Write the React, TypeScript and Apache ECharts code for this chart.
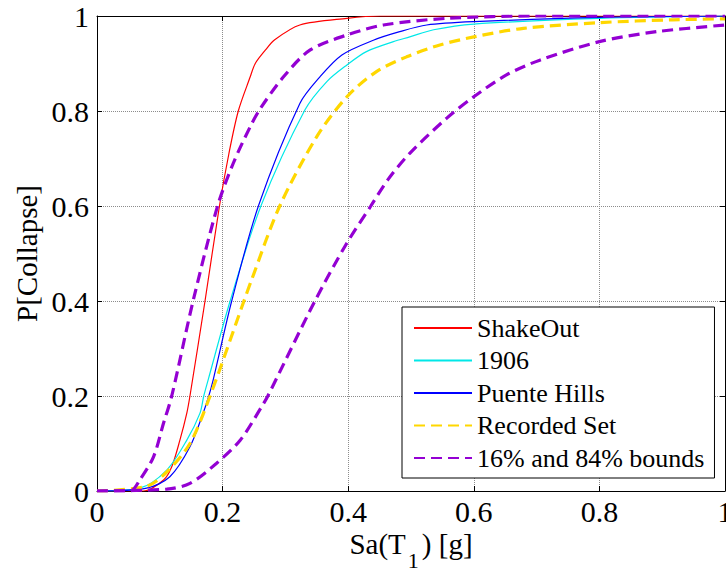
import React, { useEffect, useRef } from "react";
import * as echarts from "echarts";

// Sa(T1) [g] values and P[Collapse] values
const shakeOutX = [0, 0.074, 0.106, 0.119, 0.132, 0.143, 0.148, 0.172, 0.195, 0.21, 0.225, 0.244, 0.252, 0.268, 0.283, 0.323, 0.398, 0.45, 1];
const shakeOutY = [0, 0, 0.023, 0.051, 0.107, 0.164, 0.2, 0.4, 0.6, 0.71, 0.8, 0.872, 0.9, 0.928, 0.95, 0.981, 0.995, 1, 1];

const y1906X = [0, 0.068, 0.111, 0.143, 0.164, 0.17, 0.177, 0.212, 0.261, 0.331, 0.366, 0.398, 0.429, 0.472, 0.498, 0.536, 0.6, 0.8, 1];
const y1906Y = [0, 0.006, 0.044, 0.107, 0.164, 0.2, 0.234, 0.4, 0.6, 0.802, 0.862, 0.897, 0.925, 0.946, 0.956, 0.971, 0.983, 0.995, 1];

const puenteX = [0, 0.079, 0.116, 0.148, 0.169, 0.178, 0.185, 0.2145, 0.257, 0.323, 0.355, 0.39, 0.44, 0.482, 0.525, 0.6, 0.8, 1];
const puenteY = [0, 0.006, 0.03, 0.093, 0.164, 0.2, 0.234, 0.4, 0.6, 0.816, 0.872, 0.918, 0.949, 0.967, 0.981, 0.988, 0.997, 1];

const recordedX = [0, 0.079, 0.111, 0.148, 0.18, 0.234, 0.246, 0.291, 0.35, 0.398, 0.445, 0.493, 0.546, 0.6, 0.679, 0.8, 0.917, 1];
const recordedY = [0, 0.01, 0.04, 0.1, 0.2, 0.4, 0.444, 0.6, 0.746, 0.83, 0.883, 0.914, 0.939, 0.956, 0.974, 0.986, 0.992, 0.994];

const upper84X = [0, 0.053, 0.068, 0.09, 0.106, 0.119, 0.153, 0.192, 0.217, 0.244, 0.26, 0.297, 0.339, 0.398, 0.456, 0.557, 0.7, 1];
const upper84Y = [0, 0, 0.023, 0.072, 0.143, 0.2, 0.4, 0.6, 0.69, 0.767, 0.805, 0.872, 0.928, 0.96, 0.981, 0.995, 1, 1];

const lower16X = [0, 0.111, 0.148, 0.19, 0.228, 0.262, 0.272, 0.347, 0.397, 0.436, 0.463, 0.498, 0.557, 0.6, 0.652, 0.705, 0.8, 0.891, 1];
const lower16Y = [0, 0.004, 0.016, 0.058, 0.107, 0.177, 0.2, 0.4, 0.52, 0.6, 0.655, 0.711, 0.785, 0.83, 0.876, 0.907, 0.946, 0.967, 0.981];

const legendNames = ["ShakeOut", "1906", "Puente Hills", "Recorded Set", "16% and 84% bounds"];

const zip = (xs: number[], ys: number[]) => xs.map((x, i) => [x, ys[i]]);

const FONT = "'Liberation Serif', 'Times New Roman', serif";

export default function App() {
  const ref = useRef<HTMLDivElement>(null);
  useEffect(() => {
    if (!ref.current) return;
    const chart = echarts.init(ref.current, null, { renderer: "svg" });
    const gridLine = { show: true, lineStyle: { color: "#8c8c8c", type: "dotted", width: 1 } };
    const axisCommon = {
      type: "value",
      min: 0,
      max: 1,
      interval: 0.2,
      axisLine: { show: true, onZero: false, lineStyle: { color: "#000", width: 1 } },
      axisTick: { show: true, inside: true, length: 5, lineStyle: { color: "#000" } },
    };
    const thin = (name: string, color: string, xs: number[], ys: number[]) => ({
      name,
      type: "line",
      data: zip(xs, ys),
      showSymbol: false,
      symbol: "none",
      smooth: 0.3,
      lineStyle: { color, width: 1.2, type: "solid" },
      itemStyle: { color },
    });
    const dashed = (name: string, color: string, xs: number[], ys: number[]) => ({
      name,
      type: "line",
      data: zip(xs, ys),
      showSymbol: false,
      symbol: "none",
      smooth: 0.3,
      lineStyle: { color, width: 3.2, type: [11, 6] },
      itemStyle: { color },
    });
    chart.setOption({
      animation: false,
      backgroundColor: "#ffffff",
      textStyle: { fontFamily: FONT },
      grid: { left: 97, top: 16, right: 1, bottom: 80, outerBoundsMode: "none", containLabel: false },
      xAxis: [
        {
          ...axisCommon,
          position: "bottom",
          splitLine: gridLine,
          axisLabel: { show: true, color: "#000", fontSize: 30, fontFamily: FONT, margin: 5 },
          name: "{a|Sa(T}{b|1}{a|) [g]}",
          nameLocation: "middle",
          nameMoveOverlap: false,
          nameGap: 38,
          nameTextStyle: {
            rich: {
              a: { fontSize: 29, fontFamily: FONT, color: "#000" },
              b: { fontSize: 22, lineHeight: 20, fontFamily: FONT, color: "#000", padding: [34, 3, 0, 2] },
            },
          },
        },
        {
          ...axisCommon,
          position: "top",
          splitLine: { show: false },
          axisLabel: { show: false },
        },
      ],
      yAxis: [
        {
          ...axisCommon,
          position: "left",
          splitLine: gridLine,
          axisLabel: { show: true, color: "#000", fontSize: 30, fontFamily: FONT, margin: 8 },
          name: "P[Collapse]",
          nameLocation: "middle",
          nameMoveOverlap: false,
          nameGap: 56,
          nameTextStyle: { fontSize: 29, fontFamily: FONT, color: "#000" },
        },
        {
          ...axisCommon,
          position: "right",
          splitLine: { show: false },
          axisLabel: { show: false },
        },
      ],
      legend: {
        data: legendNames,
        orient: "vertical",
        left: 402,
        top: 307,
        backgroundColor: "#ffffff",
        borderColor: "#000",
        borderWidth: 1,
        padding: [8, 10, 7, 11],
        itemWidth: 58,
        itemHeight: 14,
        itemGap: 6.5,
        selectedMode: false,
        itemStyle: { opacity: 0 },
        lineStyle: { opacity: 1 },
        textStyle: { fontSize: 26, fontFamily: FONT, color: "#000", lineHeight: 26 },
      },
      series: [
        thin("ShakeOut", "#ff0000", shakeOutX, shakeOutY),
        thin("1906", "#00e8e8", y1906X, y1906Y),
        thin("Puente Hills", "#0000ff", puenteX, puenteY),
        dashed("Recorded Set", "#ffd700", recordedX, recordedY),
        dashed("16% and 84% bounds", "#9400d3", lower16X, lower16Y),
        dashed("16% and 84% bounds", "#9400d3", upper84X, upper84Y),
      ],
    });
    return () => chart.dispose();
  }, []);
  return (
    <div
      ref={ref}
      style={{ position: "absolute", left: 0, top: 0, width: 726, height: 571, background: "#fff" }}
    />
  );
}
